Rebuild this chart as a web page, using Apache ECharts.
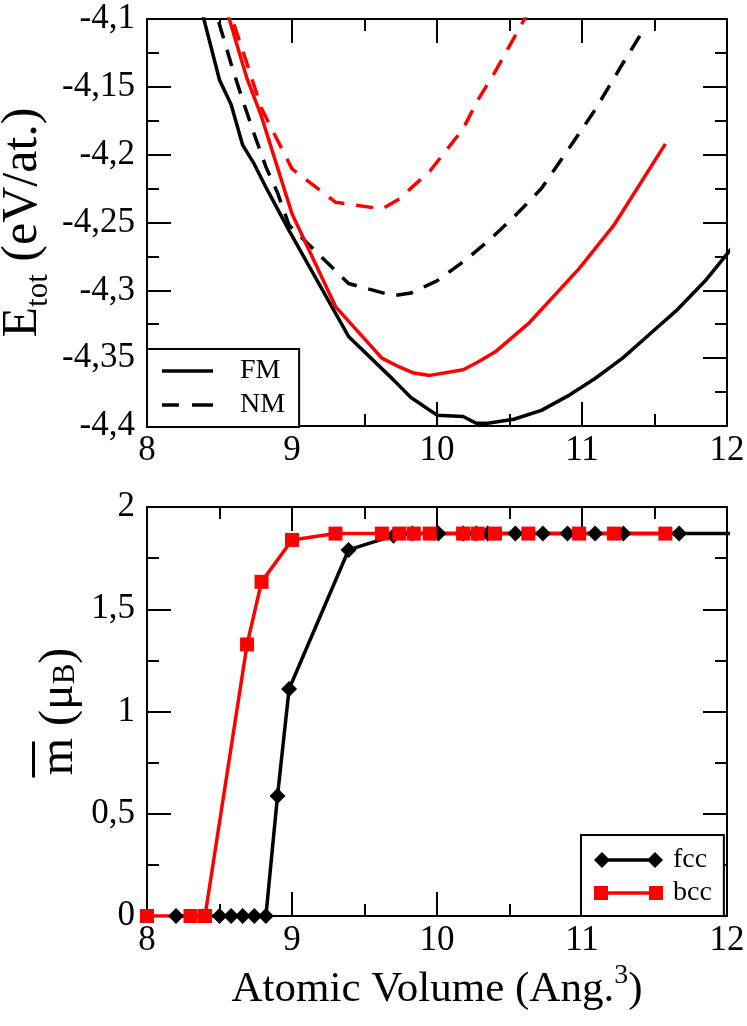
<!DOCTYPE html>
<html>
<head>
<meta charset="utf-8">
<script src="https://cdn.jsdelivr.net/npm/echarts@6/dist/echarts.min.js"></script>
<style>
html,body{margin:0;padding:0;background:#fff;}
#chart{width:747px;height:1026px;}
</style>
</head>
<body>
<div id="chart"></div>
<script>
// ---------- data ----------
// Top panel: total energy (eV/atom) vs atomic volume
const volFccFM = [8.2, 8.5, 8.58, 8.66, 8.74, 8.82, 8.90, 8.98, 9.39, 9.70, 9.82, 10.0, 10.18, 10.27, 10.35, 10.53, 10.72, 10.90, 11.09, 11.28, 11.47, 11.66, 11.85, 12.04];
const eFccFM   = [-4.02, -4.145, -4.163, -4.193, -4.207, -4.224, -4.240, -4.256, -4.334, -4.366, -4.379, -4.392, -4.393, -4.398, -4.398, -4.395, -4.3885, -4.378, -4.365, -4.350, -4.332, -4.314, -4.293, -4.268];

const volFccNM = [8.2, 8.5, 8.58, 8.66, 8.74, 8.82, 8.90, 8.98, 9.39, 9.70, 9.82, 10.0, 10.18, 10.35, 10.53, 10.72, 10.90, 11.09, 11.28, 11.43];
const eFccNM   = [-4.0, -4.104, -4.133, -4.16, -4.185, -4.209, -4.228, -4.252, -4.295, -4.304, -4.302, -4.293, -4.279, -4.264, -4.246, -4.225, -4.197, -4.167, -4.133, -4.107];

const volBcc   = [8.0, 8.3, 8.4, 8.69, 8.79, 9.0, 9.3, 9.62, 9.74, 9.84, 9.95, 10.18, 10.28, 10.4, 10.63, 10.98, 11.22, 11.575];
const eBccFM   = [-3.9, -4.01, -4.04, -4.144, -4.172, -4.2436, -4.312, -4.350, -4.3565, -4.361, -4.3627, -4.3585, -4.353, -4.3455, -4.3246, -4.284, -4.252, -4.192];
const volBccNM = [8.0, 8.3, 8.4, 8.69, 8.79, 9.0, 9.3, 9.62, 9.74, 9.84, 9.95, 10.18, 10.28, 10.4, 10.63];
const eBccNM   = [-3.9, -4.0, -4.04, -4.133, -4.166, -4.2105, -4.235, -4.24, -4.2326, -4.2228, -4.2122, -4.181, -4.160, -4.139, -4.095];

// Bottom panel: mean magnetic moment (mu_B) vs atomic volume
const volFccM = [8.2, 8.5, 8.58, 8.66, 8.74, 8.82, 8.90, 8.98, 9.39, 9.70, 9.83, 10.01, 10.18, 10.27, 10.35, 10.54, 10.73, 10.90, 11.09, 11.285, 11.67, 12.3];
const magFcc  = [0, 0, 0, 0, 0, 0, 0.587, 1.11, 1.79, 1.86, 1.87, 1.87, 1.87, 1.87, 1.87, 1.87, 1.87, 1.87, 1.87, 1.87, 1.87, 1.87];
const volBccM = [8.0, 8.3, 8.4, 8.69, 8.79, 9.0, 9.3, 9.62, 9.74, 9.84, 9.95, 10.18, 10.28, 10.4, 10.63, 10.98, 11.22, 11.575];
const magBcc  = [0, 0, 0, 1.328, 1.634, 1.839, 1.87, 1.87, 1.87, 1.87, 1.87, 1.87, 1.87, 1.87, 1.87, 1.87, 1.87, 1.87];

// Tick labels
const xTickLabels = ['8', '9', '10', '11', '12'];
const eTickLabels = ['-4,4', '-4,35', '-4,3', '-4,25', '-4,2', '-4,15', '-4,1'];
const mTickLabels = ['0', '0,5', '1', '1,5', '2'];

// ---------- chart ----------
const F = 'Liberation Serif';
const LW = 3.5;
const zip = (xs, ys) => xs.map((x, i) => [x, ys[i]]);
const pick = (labels, min, step) => v => {
  const s = labels[Math.round((v - min) / step)];
  return s === undefined ? '' : '{t|' + s + '}';
};
const tickRich = {t: {fontFamily: F, fontSize: 35, color: '#000'}};

const tickStyle = {color: '#000', width: 2};
function xPair(grid, withName) {
  const base = {
    gridIndex: grid, type: 'value', min: 8, max: 12, interval: 1,
    axisLine: {show: true, onZero: false, lineStyle: tickStyle},
    axisTick: {show: true, inside: true, length: 24, lineStyle: tickStyle},
    minorTick: {show: true, splitNumber: 2, length: 12, lineStyle: tickStyle},
    splitLine: {show: false}, minorSplitLine: {show: false}
  };
  const bottom = Object.assign({}, base, {
    position: 'bottom',
    axisLabel: {show: true, margin: 7, fontSize: 35, fontFamily: F, color: '#000', rich: tickRich,
      showMinLabel: true, showMaxLabel: true, formatter: pick(xTickLabels, 8, 1)}
  });
  if (withName) {
    Object.assign(bottom, {
      name: '{a|Atomic Volume (Ang.}{p|3}{a|)}',
      nameLocation: 'middle', nameGap: 46, nameMoveOverlap: false,
      nameTextStyle: {fontFamily: F, color: '#000', rich: {
        a: {fontFamily: F, fontSize: 43, lineHeight: 56, color: '#000', verticalAlign: 'middle'},
        p: {fontFamily: F, fontSize: 28, lineHeight: 28, color: '#000', verticalAlign: 'top'}
      }}
    });
  }
  const top = Object.assign({}, base, {position: 'top', axisLabel: {show: false}});
  return [bottom, top];
}
function yPair(grid, min, max, interval, labels, name, nameGap, rich) {
  const base = {
    gridIndex: grid, type: 'value', min: min, max: max, interval: interval,
    axisLine: {show: true, onZero: false, lineStyle: tickStyle},
    axisTick: {show: true, inside: true, length: 24, lineStyle: tickStyle},
    minorTick: {show: true, splitNumber: 2, length: 12, lineStyle: tickStyle},
    splitLine: {show: false}, minorSplitLine: {show: false}
  };
  const left = Object.assign({}, base, {
    position: 'left',
    axisLabel: {show: true, margin: 12, fontSize: 35, fontFamily: F, color: '#000', rich: tickRich,
      showMinLabel: true, showMaxLabel: true, formatter: pick(labels, min, interval)},
    name: name, nameLocation: 'middle', nameRotate: 90, nameGap: nameGap, nameMoveOverlap: false,
    nameTextStyle: {fontFamily: F, color: '#000', rich: rich}
  });
  const right = Object.assign({}, base, {position: 'right', axisLabel: {show: false}});
  return [left, right];
}

const richE = {
  a: {fontFamily: F, fontSize: 50, lineHeight: 56, color: '#000', verticalAlign: 'top'},
  s: {fontFamily: F, fontSize: 31, lineHeight: 31, color: '#000', verticalAlign: 'bottom', padding: [27, 0, 0, 0]}
};
const richM = {
  o: {width: 36, height: 3, lineHeight: 3, backgroundColor: '#000'},
  sp: {width: 96, height: 3, lineHeight: 3},
  a: {fontFamily: F, fontSize: 48, lineHeight: 46, color: '#000', verticalAlign: 'top'},
  s: {fontFamily: F, fontSize: 31, lineHeight: 26, color: '#000', verticalAlign: 'bottom', padding: [28, 0, 0, 0]}
};

const fmIcon  = 'path://M0,0L51,0L51,3.5L0,3.5Z';
const nmIcon  = 'path://M0,0L17,0L17,3.5L0,3.5Z M30,0L51,0L51,3.5L30,3.5Z';
const fccIcon = 'path://M0,8L8,0L16,8L8,16Z M8,6.25L61,6.25L61,9.75L8,9.75Z M53,8L61,0L69,8L61,16Z';
const bccIcon = 'path://M0,1L14,1L14,15L0,15Z M7,6.25L62,6.25L62,9.75L7,9.75Z M55,1L69,1L69,15L55,15Z';

const xAxes = [].concat(xPair(0, false), xPair(1, true));
const yAxes = [].concat(
  yPair(0, -4.4, -4.1, 0.05, eTickLabels, '{a|E}{s|tot}{a| (eV/at.)}', 93, richE),
  yPair(1, 0, 2, 0.5, mTickLabels, '{o|}{sp|}\n{a|m (μ}{s|B}{a|)}', 66, richM)
);

const lineCommon = {type: 'line', animation: false, clip: true, silent: true};
const option = {
  backgroundColor: '#fff',
  animation: false,
  grid: [
    {left: 147, top: 19, width: 580, height: 407, containLabel: false, outerBoundsMode: 'none'},
    {left: 147, top: 507, width: 580, height: 409, containLabel: false, outerBoundsMode: 'none'}
  ],
  xAxis: xAxes,
  yAxis: yAxes,
  legend: [
    {
      data: [{name: 'FM', icon: fmIcon}, {name: 'NM', icon: nmIcon}], orient: 'vertical', left: 147, top: 349,
      itemWidth: 51, itemHeight: 14, itemGap: 6, padding: [8, 14, 8, 15],
      borderColor: '#000', borderWidth: 2, backgroundColor: '#fff', selectedMode: false,
      textStyle: {fontFamily: F, fontSize: 28, lineHeight: 27, color: '#000', padding: [0, 0, 0, 22]}
    },
    {
      data: [{name: 'fcc', icon: fccIcon}, {name: 'bcc', icon: bccIcon}], orient: 'vertical', left: 581, top: 835,
      itemWidth: 69, itemHeight: 16, itemGap: 5, padding: [11, 12, 9, 13],
      borderColor: '#000', borderWidth: 2, backgroundColor: '#fff', selectedMode: false,
      textStyle: {fontFamily: F, fontSize: 28, lineHeight: 27, color: '#000', padding: [0, 0, 0, 5]}
    }
  ],
  series: [
    Object.assign({}, lineCommon, {name: 'FM', xAxisIndex: 0, yAxisIndex: 0, data: zip(volFccFM, eFccFM),
      symbol: 'none', lineStyle: {color: '#000', width: LW}, itemStyle: {color: '#000'}}),
    Object.assign({}, lineCommon, {name: 'NM', xAxisIndex: 0, yAxisIndex: 0, data: zip(volFccNM, eFccNM),
      symbol: 'none', lineStyle: {color: '#000', width: LW, type: [17, 12]}, itemStyle: {color: '#000'}}),
    Object.assign({}, lineCommon, {name: 'bcc FM', xAxisIndex: 0, yAxisIndex: 0, data: zip(volBcc, eBccFM),
      symbol: 'none', lineStyle: {color: '#ff0000', width: LW}, itemStyle: {color: '#ff0000'}}),
    Object.assign({}, lineCommon, {name: 'bcc NM', xAxisIndex: 0, yAxisIndex: 0, data: zip(volBccNM, eBccNM),
      symbol: 'none', lineStyle: {color: '#ff0000', width: LW, type: [17, 12]}, itemStyle: {color: '#ff0000'}}),
    Object.assign({}, lineCommon, {name: 'fcc', xAxisIndex: 2, yAxisIndex: 2, data: zip(volFccM, magFcc),
      symbol: 'diamond', symbolSize: [16, 16], showSymbol: true, showAllSymbol: true,
      lineStyle: {color: '#000', width: LW}, itemStyle: {color: '#000'}}),
    Object.assign({}, lineCommon, {name: 'bcc', xAxisIndex: 2, yAxisIndex: 2, data: zip(volBccM, magBcc),
      symbol: 'rect', symbolSize: 14, showSymbol: true, showAllSymbol: true,
      lineStyle: {color: '#ff0000', width: LW}, itemStyle: {color: '#ff0000'}})
  ]
};

const chart = echarts.init(document.getElementById('chart'), null, {renderer: 'canvas'});
chart.setOption(option);
</script>
</body>
</html>
